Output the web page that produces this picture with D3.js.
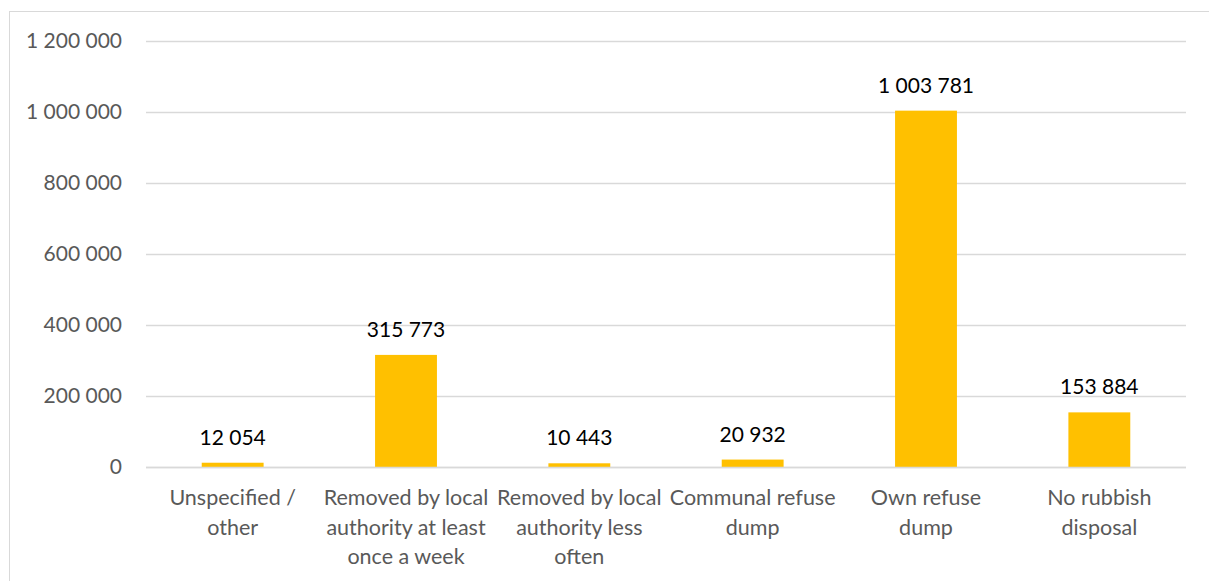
<!DOCTYPE html>
<html>
<head>
<meta charset="utf-8">
<script src="https://cdn.jsdelivr.net/npm/d3@7"></script>
<style>
	body {margin: 0; background: #fff;}
	svg {display: block; font-family: Lato, "Open Sans", sans-serif;}
</style>
</head>
<body>
<svg width="1209" height="581"></svg>
<script>
'use strict';
// chart data
let aCategories = [
	["Unspecified /", "other"],
	["Removed by local", "authority at least", "once a week"],
	["Removed by local", "authority less", "often"],
	["Communal refuse", "dump"],
	["Own refuse", "dump"],
	["No rubbish", "disposal"]]
let aValues = [12054, 315773, 10443, 20932, 1003781, 153884]
let aTicks = [0, 200000, 400000, 600000, 800000, 1000000, 1200000]

let eSvg = d3.select("svg"),
	dWidth = +eSvg.attr("width"),
	dHeight = +eSvg.attr("height")

let fmt = d3.formatLocale({decimal: ".", thousands: " ", grouping: [3], currency: ["", ""]}).format(",")

// outer frame
eSvg.append("rect")
	.attr("x", 9.5).attr("y", 11.5)
	.attr("width", dWidth).attr("height", dHeight)
	.attr("fill", "none").attr("stroke", "#d9d9d9")

let xScale = d3.scaleBand()
	.domain(aCategories.map((c, i) => i))
	.range([146, 1186])
	.paddingInner(0.643).paddingOuter(0.3215)

let yScale = d3.scaleLinear().domain([0, 1200000]).range([467, 41])

// gridlines
eSvg.append("g").selectAll("line")
	.data(aTicks)
	.enter().append("line")
	.attr("x1", 146).attr("x2", 1186)
	.attr("y1", d => yScale(d) + 0.5).attr("y2", d => yScale(d) + 0.5)
	.attr("stroke", "#d9d9d9").attr("stroke-width", 1.3)

// y tick labels
eSvg.append("g").selectAll("text")
	.data(aTicks)
	.enter().append("text")
	.attr("x", 122).attr("y", d => yScale(d))
	.attr("dy", "0.35em")
	.attr("text-anchor", "end")
	.attr("fill", "#595959")
	.attr("font-size", 21)
	.text(d => fmt(d))

// bars
eSvg.append("g").selectAll("rect")
	.data(aValues)
	.enter().append("rect")
	.attr("x", (d, i) => xScale(i))
	.attr("width", xScale.bandwidth())
	.attr("y", d => yScale(d))
	.attr("height", d => yScale(0) - yScale(d))
	.attr("fill", "#ffc000")

// redraw zero line on top of bars
eSvg.append("line")
	.attr("x1", 146).attr("x2", 1186)
	.attr("y1", yScale(0) + 0.5).attr("y2", yScale(0) + 0.5)
	.attr("stroke", "#d9d9d9").attr("stroke-width", 1.3)

// value labels
eSvg.append("g").selectAll("text")
	.data(aValues)
	.enter().append("text")
	.attr("x", (d, i) => xScale(i) + xScale.bandwidth() / 2)
	.attr("y", d => yScale(d) - 18)
	.attr("text-anchor", "middle")
	.attr("fill", "#000")
	.attr("font-size", 21)
	.text(d => fmt(d))

// category labels, one tspan per line
let eCat = eSvg.append("g").selectAll("text")
	.data(aCategories)
	.enter().append("text")
	.attr("text-anchor", "middle")
	.attr("fill", "#595959")
	.attr("font-size", 21.5)

eCat.selectAll("tspan")
	.data((d, i) => d.map(s => ({s: s, i: i})))
	.enter().append("tspan")
	.attr("x", d => xScale(d.i) + xScale.bandwidth() / 2)
	.attr("y", (d, j) => 505 + j * 29.5)
	.text(d => d.s)
</script>
</body>
</html>
